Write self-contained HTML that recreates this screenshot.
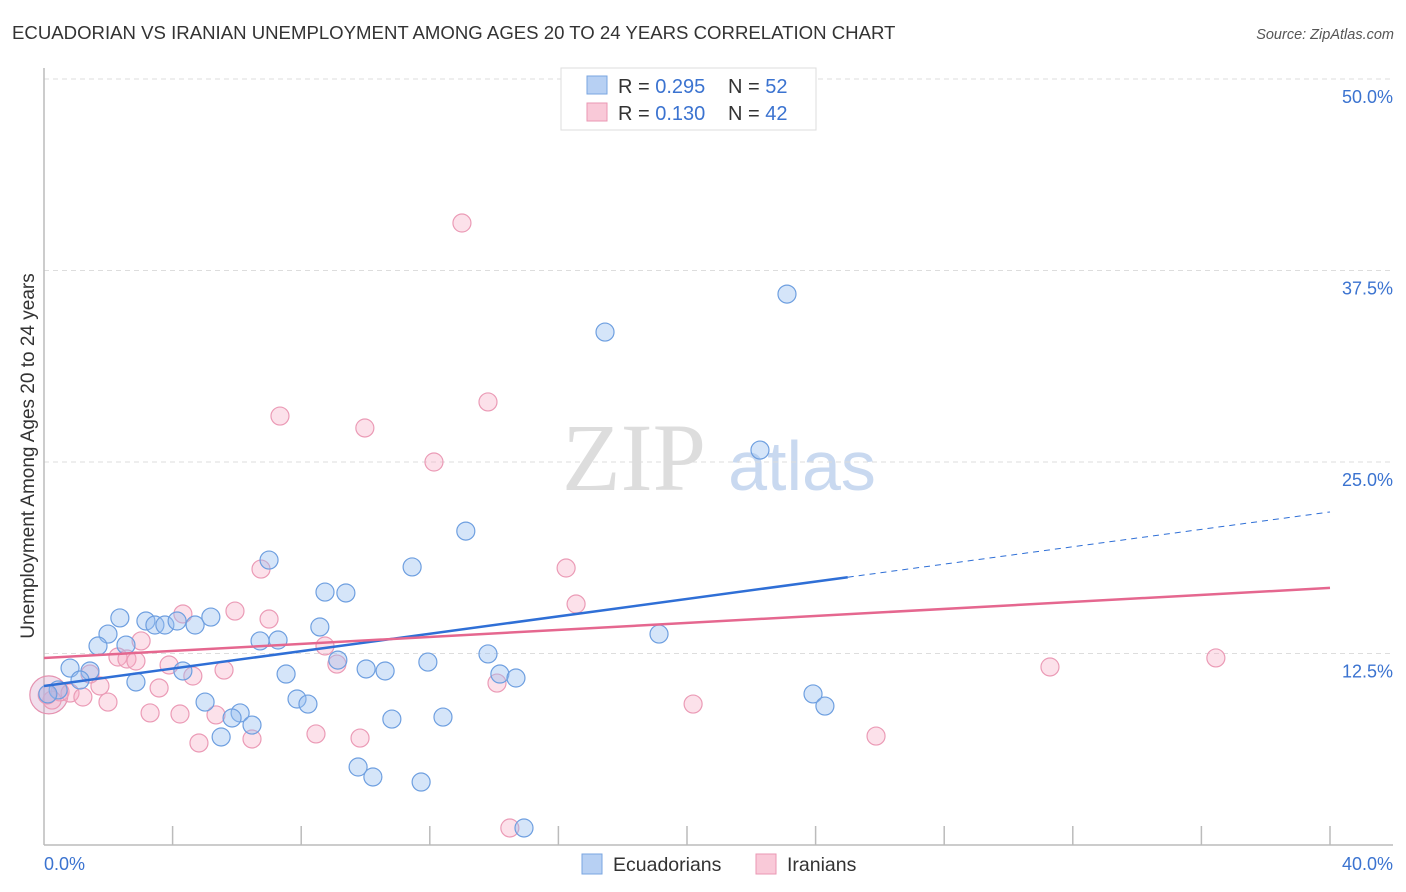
<!DOCTYPE html>
<html><head><meta charset="utf-8"><style>
body{margin:0;background:#fff;font-family:"Liberation Sans",sans-serif;}
svg{display:block}
</style></head><body>
<svg id="chart" width="1406" height="892" xmlns="http://www.w3.org/2000/svg">
<text x="12" y="39" font-size="18.6" fill="#333">ECUADORIAN VS IRANIAN UNEMPLOYMENT AMONG AGES 20 TO 24 YEARS CORRELATION CHART</text>
<text x="1394" y="39" font-size="14.5" fill="#555" font-style="italic" text-anchor="end">Source: ZipAtlas.com</text>
<text x="634" y="490" font-size="96" fill="#ddd" font-family="Liberation Serif,serif" text-anchor="middle">ZIP</text>
<text x="802" y="490" font-size="70" fill="#c9d9f0" text-anchor="middle">atlas</text>
<text transform="translate(34,456) rotate(-90)" font-size="19" fill="#333" text-anchor="middle">Unemployment Among Ages 20 to 24 years</text>
<g id="grid"></g><g id="axes"></g><g id="pink"></g><g id="blue"></g><g id="lines"></g>
<g>
<rect x="561" y="68" width="255" height="62" fill="#fff" stroke="#ddd"/>
<rect x="587" y="76" width="20" height="18" fill="#b7d0f3" stroke="#7aa6e0"/>
<rect x="587" y="103" width="20" height="18" fill="#f9c9d8" stroke="#ea97b3"/>
<text x="618" y="93" font-size="20" fill="#333">R = <tspan fill="#3b73d0">0.295</tspan></text>
<text x="728" y="93" font-size="20" fill="#333">N = <tspan fill="#3b73d0">52</tspan></text>
<text x="618" y="120" font-size="20" fill="#333">R = <tspan fill="#3b73d0"> 0.130</tspan></text>
<text x="728" y="120" font-size="20" fill="#333">N = <tspan fill="#3b73d0">42</tspan></text>
</g>
<g>
<rect x="582" y="854" width="20" height="20" fill="#b7d0f3" stroke="#7aa6e0"/>
<text x="613" y="871" font-size="19.5" fill="#333">Ecuadorians</text>
<rect x="756" y="854" width="20" height="20" fill="#f9c9d8" stroke="#ea97b3"/>
<text x="787" y="871" font-size="19.5" fill="#333">Iranians</text>
</g>
</svg>
<script>
const blueX=[23.11,17.45,22.27,13.12,7.00,11.45,8.74,9.39,2.36,3.17,3.45,3.76,4.14,4.70,5.19,1.99,1.68,2.55,6.72,7.28,8.58,19.13,13.81,9.14,0.81,1.43,4.32,7.53,10.02,10.61,11.94,14.18,14.68,1.12,2.86,0.44,0.12,7.87,8.21,5.01,6.10,5.85,6.47,5.51,10.82,12.41,23.92,24.29,9.77,10.23,11.73,14.93];
const blueY=[35.96,33.48,25.78,20.49,18.60,18.15,16.51,16.45,14.82,14.62,14.36,14.36,14.62,14.36,14.88,13.77,12.99,13.05,13.32,13.38,14.23,13.77,12.47,12.07,11.55,11.36,11.36,11.16,11.49,11.36,11.94,11.16,10.90,10.77,10.64,10.12,9.86,9.53,9.20,9.33,8.62,8.29,7.83,7.05,8.22,8.35,9.86,9.07,5.09,4.44,4.11,1.11];
const pinkX=[13.00,13.81,7.34,9.98,12.13,16.24,6.75,16.55,4.32,5.94,7.00,3.02,8.74,2.30,2.58,2.86,3.89,9.11,5.60,4.63,1.43,31.29,36.45,14.09,1.74,3.58,0.50,0.81,1.21,0.25,1.99,3.30,4.23,5.35,20.19,8.46,9.83,25.88,4.82,6.47,14.49,0.1];
const pinkY=[40.60,28.92,28.00,27.22,25.00,18.08,18.01,15.73,15.08,15.27,14.75,13.32,12.99,12.27,12.14,12.01,11.75,11.81,11.42,11.03,11.16,11.62,12.21,10.57,10.38,10.25,9.99,9.92,9.66,9.46,9.33,8.62,8.55,8.49,9.20,7.25,6.98,7.11,6.66,6.92,1.11,9.79];
const blueTrend=[10.38,21.74];
const pinkTrend=[12.21,16.78];
const blueSolidEnd=25.0;
const yTicks=[12.5,25.0,37.5,50.0];
const xTickLabels=["0.0%","40.0%"];
const NS="http://www.w3.org/2000/svg";
const sx=v=>44+v/40*1286, sy=v=>845-v/12.5*191.5;
function mk(tag,attrs,parent){const e=document.createElementNS(NS,tag);for(const k in attrs)e.setAttribute(k,attrs[k]);parent.appendChild(e);return e;}
const grid=document.getElementById('grid'),axes=document.getElementById('axes');
yTicks.forEach(t=>{
 const l=mk('line',{x1:44,x2:1393,y1:sy(t),y2:sy(t),stroke:'#ddd','stroke-dasharray':'5,4'},grid);
 
 
 const tx=mk('text',{x:1393,y:sy(t)+24,'font-size':18,fill:'#3b73d0','text-anchor':'end'},axes);
 tx.textContent=t.toFixed(1)+'%';
 
 
});
mk('line',{x1:44,x2:44,y1:68,y2:845,stroke:'#bbb','stroke-width':1.5},axes);
mk('line',{x1:44,x2:1393,y1:845,y2:845,stroke:'#bbb','stroke-width':1.5},axes);
for(let i=1;i<=10;i++){mk('line',{x1:sx(i*4),x2:sx(i*4),y1:826,y2:845,stroke:'#bbb','stroke-width':1.5},axes);}
const xl0=mk('text',{x:44,y:870,'font-size':18,fill:'#3b73d0'},axes);xl0.textContent=xTickLabels[0];


const xl1=mk('text',{x:1393,y:870,'font-size':18,fill:'#3b73d0','text-anchor':'end'},axes);xl1.textContent=xTickLabels[1];


const pg=document.getElementById('pink'),bg=document.getElementById('blue');
mk('circle',{cx:sx(0.15),cy:sy(9.8),r:19,fill:'rgba(214,160,200,0.35)',stroke:'#e592b0','stroke-width':1.2},pg);
pinkX.forEach((x,i)=>{const c=mk('circle',{cx:sx(x),cy:sy(pinkY[i]),r:9,fill:'rgba(245,170,195,0.35)',stroke:'#eb9bb6','stroke-width':1.2},pg);
 
 });
blueX.forEach((x,i)=>{const c=mk('circle',{cx:sx(x),cy:sy(blueY[i]),r:9,fill:'rgba(150,190,240,0.4)',stroke:'#6e9fe0','stroke-width':1.2},bg);
 
 });
const lg=document.getElementById('lines');
const bAt=x=>blueTrend[0]+(blueTrend[1]-blueTrend[0])*x/40;
const b1=mk('line',{x1:sx(0),y1:sy(bAt(0)),x2:sx(blueSolidEnd),y2:sy(bAt(blueSolidEnd)),stroke:'#2f6fd6','stroke-width':2.5},lg);


const b2=mk('line',{x1:sx(blueSolidEnd),y1:sy(bAt(blueSolidEnd)),x2:sx(40),y2:sy(bAt(40)),stroke:'#2f6fd6','stroke-width':1,'stroke-dasharray':'6,5'},lg);


const p1=mk('line',{x1:sx(0),y1:sy(pinkTrend[0]),x2:sx(40),y2:sy(pinkTrend[1]),stroke:'#e5678f','stroke-width':2.5},lg);


</script>
</body></html>
